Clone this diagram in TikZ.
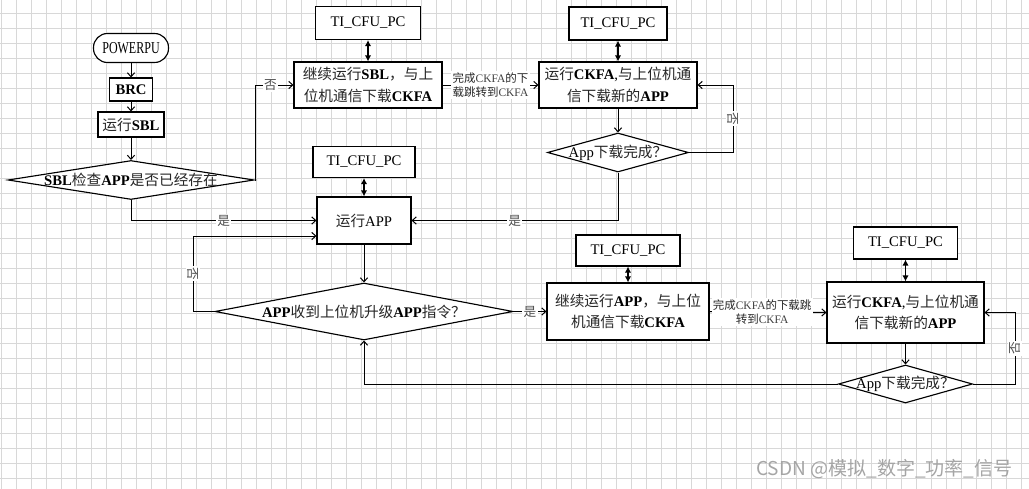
\documentclass[tikz,border=0pt]{standalone}
\usepackage{fontspec}
\setmainfont{Liberation Serif}
\newfontfamily\cjk{Noto Sans CJK SC}
\newfontfamily\narrowlat{Liberation Serif}[FakeStretch=0.72]
\usetikzlibrary{arrows.meta,shapes.geometric,calc}
\newcommand\zh[1]{{\cjk\color{black!85}#1}}
\definecolor{gridgray}{RGB}{216,216,216}
\definecolor{wmgray}{RGB}{165,165,165}
\tikzset{
  sz/.style 2 args={minimum width=#1*0.75pt, minimum height=#2*0.75pt},
  box/.style={draw, fill=white, line width=0.85pt, inner sep=0pt, align=center,
              font=\fontsize{11}{16}\selectfont},
  dia/.style={draw, fill=white, diamond, line width=0.85pt, inner sep=0pt},
  dlabel/.style={font=\fontsize{11}{16}\selectfont, inner sep=0pt},
  conn/.style={line width=0.75pt, -{Straight Barb[length=3pt,width=5.5pt]}},
  dbl/.style={line width=1.2pt, {Latex[length=4.5pt,width=4.8pt]}-{Latex[length=4.5pt,width=4.8pt]}},
  lbl/.style={fill=white, inner sep=1pt, font=\cjk\fontsize{9.5}{11}\selectfont, text=black!70},
  lbltwo/.style={fill=white, inner sep=1pt, align=center, font=\fontsize{8.6}{10.8}\selectfont, text=black!75},
  gridline/.style={line width=0.75pt, gridgray},
}
\begin{document}
\begin{tikzpicture}[x=0.75pt,y=-0.75pt]
\useasboundingbox (0,0) rectangle (1029,489);
% background grid
\foreach \i in {0,...,68} \draw[gridline] ({1+15*\i},0) -- ({1+15*\i},489);
\foreach \j in {0,...,31} \draw[gridline] (0,{13.3+15*\j}) -- (1029,{13.3+15*\j});

% nodes
\node[box, sz={75}{29}, rounded corners=10.5pt, font=\narrowlat\fontsize{12.5}{14}\selectfont] (pw) at (131,48) {POWERPU};
\node[box, sz={43}{23}] (brc) at (131,89.5) {\textbf{BRC}};
\node[box, sz={66}{25}] (sbl) at (131,124.5) {\zh{运行}\textbf{SBL}};
\node[dia, sz={246}{39}, label={[dlabel]center:\textbf{SBL}\zh{检查}\textbf{APP}\zh{是否已经存在}}] (d1) at (131,180) {};

\node[box, sz={105}{33}] (tp1) at (368,23) {TI\_CFU\_PC};
\node[box, sz={148}{46}] (b1) at (368,85) {\zh{继续运行}\textbf{SBL}\zh{，与上}\\\zh{位机通信下载}\textbf{CKFA}};

\node[box, sz={98}{33}] (tp2) at (618,23.5) {TI\_CFU\_PC};
\node[box, sz={158}{46}] (b2) at (618,85) {\zh{运行}\textbf{CKFA},\zh{与上位机通}\\\zh{信下载新的}\textbf{APP}};
\node[dia, sz={141}{39}, label={[dlabel]center:App\zh{下载完成？}}] (d2) at (618,152.5) {};

\node[box, sz={102}{31}] (tp3) at (364,162) {TI\_CFU\_PC};
\node[box, sz={94}{47}] (app) at (364,220.5) {\zh{运行}APP};
\node[dia, sz={298}{57}, label={[dlabel]center:\textbf{APP}\zh{收到上位机升级}\textbf{APP}\zh{指令？}}] (d3) at (364,311.5) {};

\node[box, sz={104}{31}] (tp4) at (628,250.5) {TI\_CFU\_PC};
\node[box, sz={162}{57}] (b3) at (628,311.5) {\zh{继续运行}\textbf{APP}\zh{，与上位}\\\zh{机通信下载}\textbf{CKFA}};

\node[box, sz={104}{32}] (tp5) at (905.5,243) {TI\_CFU\_PC};
\node[box, sz={157}{61}] (b4) at (905.5,312.5) {\zh{运行}\textbf{CKFA},\zh{与上位机通}\\\zh{信下载新的}\textbf{APP}};
\node[dia, sz={134}{38}, label={[dlabel]center:App\zh{下载完成？}}] (d4) at (905.5,384) {};

\node[anchor=east, inner sep=0pt, text=wmgray, font=\cjk\fontsize{14.3}{16}\selectfont] (wm) at (1013,469) {CSDN @模拟\_数字\_功率\_信号};

% helper coordinates for loops
\coordinate (c1) at (255,0);
\coordinate (c2) at (733,0);
\coordinate (c3) at (193,236);
\coordinate (c4) at (1015,0);

% connectors
\draw[conn] (pw) -- (brc);
\draw[conn] (brc) -- (sbl);
\draw[conn] (sbl) -- (d1);
\draw[conn] (d1.east) -- (c1 |- d1.east) -- (c1 |- b1.west) -- node[lbl, pos=0.4]{否} (b1.west);
\draw[dbl] (tp1.south) -- (tp1.south |- b1.north);
\draw[conn] (b1.east) -- node[lbltwo]{\zh{完成}CKFA\zh{的下}\\\zh{载跳转到}CKFA} (b2.west);
\draw[dbl] (tp2.south) -- (tp2.south |- b2.north);
\draw[conn] (b2) -- (d2);
\draw[conn] (d2.east) -- (c2 |- d2.east) -- node[lbl, rotate=-90]{否} (c2 |- b2.east) -- (b2.east);
\draw[conn] (d2.south) |- node[lbl, pos=0.75]{是} (app.east);
\draw[conn] (d1.south) |- node[lbl, pos=0.75]{是} (app.west);
\draw[dbl] (tp3.south) -- (tp3.south |- app.north);
\draw[conn] (app) -- (d3);
\draw[conn] (d3.west) -- (c3 |- d3.west) -- node[lbl, rotate=-90]{否} (c3) -- (c3 -| app.west);
\draw[conn] (d3.east) -- node[lbl]{是} (b3.west);
\draw[dbl] (tp4.south) -- (tp4.south |- b3.north);
\draw[conn] (b3.east) -- node[lbltwo, pos=0.45]{\zh{完成}CKFA\zh{的下载跳}\\\zh{转到}CKFA} (b4.west);
\draw[dbl] (tp5.south) -- (tp5.south |- b4.north);
\draw[conn] (b4) -- (d4);
\draw[conn] (d4.east) -- (c4 |- d4.east) -- node[lbl, rotate=90]{否} (c4 |- b4.east) -- (b4.east);
\draw[conn] (d4.west) -| (d3.south);
\end{tikzpicture}
\end{document}
